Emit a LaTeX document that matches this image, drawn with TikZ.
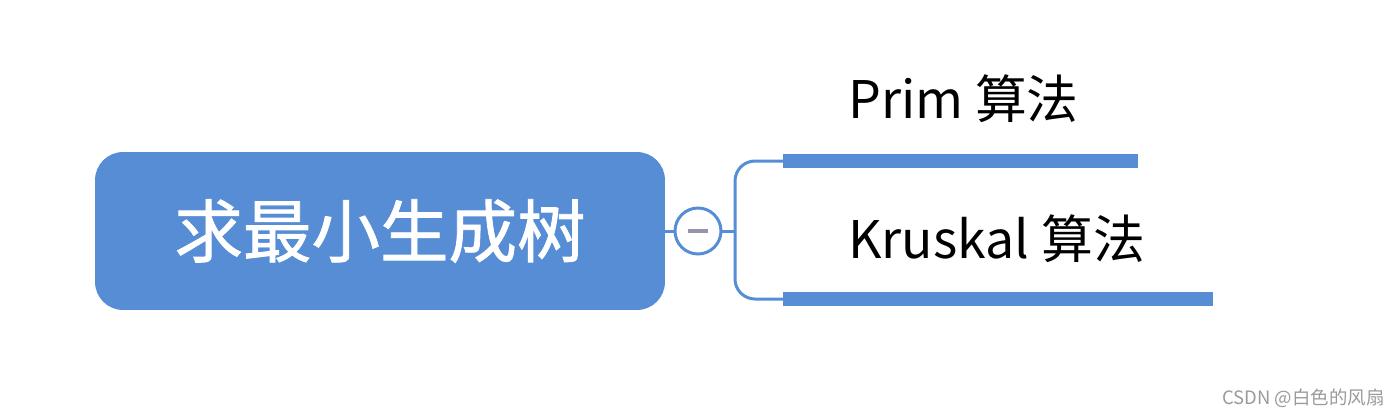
\documentclass[tikz,border=0pt]{standalone}
\usepackage{fontspec}
\setmainfont{Noto Sans CJK SC}
\newfontfamily\rootfont[FakeBold=1.2]{Noto Sans CJK SC}
\usetikzlibrary{calc,positioning}
\definecolor{mapblue}{HTML}{568DD5}
\definecolor{minusgray}{HTML}{9A92AA}
\definecolor{markgray}{HTML}{9A9A9A}

\begin{document}
\begin{tikzpicture}[x=0.02cm,y=-0.02cm,
    rootbox/.style={fill=mapblue,text=white,rounded corners=0.56cm,
      minimum width=11.4cm,minimum height=3.16cm,inner sep=0pt,
      font=\rootfont\fontsize{39}{44}\selectfont},
    togglebox/.style={circle,draw=mapblue,line width=1.7pt,fill=white,
      minimum size=0.92cm,inner sep=0pt},
    branch/.style={draw=mapblue,line width=1.7pt},
    leafbar/.style={fill=mapblue,minimum height=0.29cm,inner sep=0pt,anchor=west},
    leaftext/.style={anchor=base west,inner sep=0pt,font=\fontsize{29.5}{34}\selectfont}]
    \useasboundingbox (0,0) rectangle (1400,417);
    \node[rootbox] (root) at (380,231) {求最小生成树};
    \node[togglebox] (toggle) at (698,231) {};
    \draw[minusgray,line width=2.2pt] ($(toggle)+(-10,0)$) -- ($(toggle)+(10,0)$);
    \coordinate (fork) at (735,231);
    % leaves
    \node[leafbar,minimum width=7.1cm] (primbar) at (783,161) {};
    \node[leafbar,minimum width=8.6cm] (kruskalbar) at (783,299) {};
    \node[leaftext] (prim) at (848,118) {Prim 算法};
    \node[leaftext] (kruskal) at (848,258) {Kruskal 算法};
    \draw[branch] (root.east) -- (toggle.west);
    \draw[branch] (toggle.east) -- (fork);
    \draw[branch,rounded corners=0.4cm] (fork) |- (primbar.west);
    \draw[branch,rounded corners=0.4cm] (fork) |- (kruskalbar.west);
    \node[anchor=base east,text=markgray,inner sep=0pt,font=\fontsize{10.5}{12}\selectfont] (mark) at (1385,404) {CSDN @白色的风扇};
\end{tikzpicture}
\end{document}
